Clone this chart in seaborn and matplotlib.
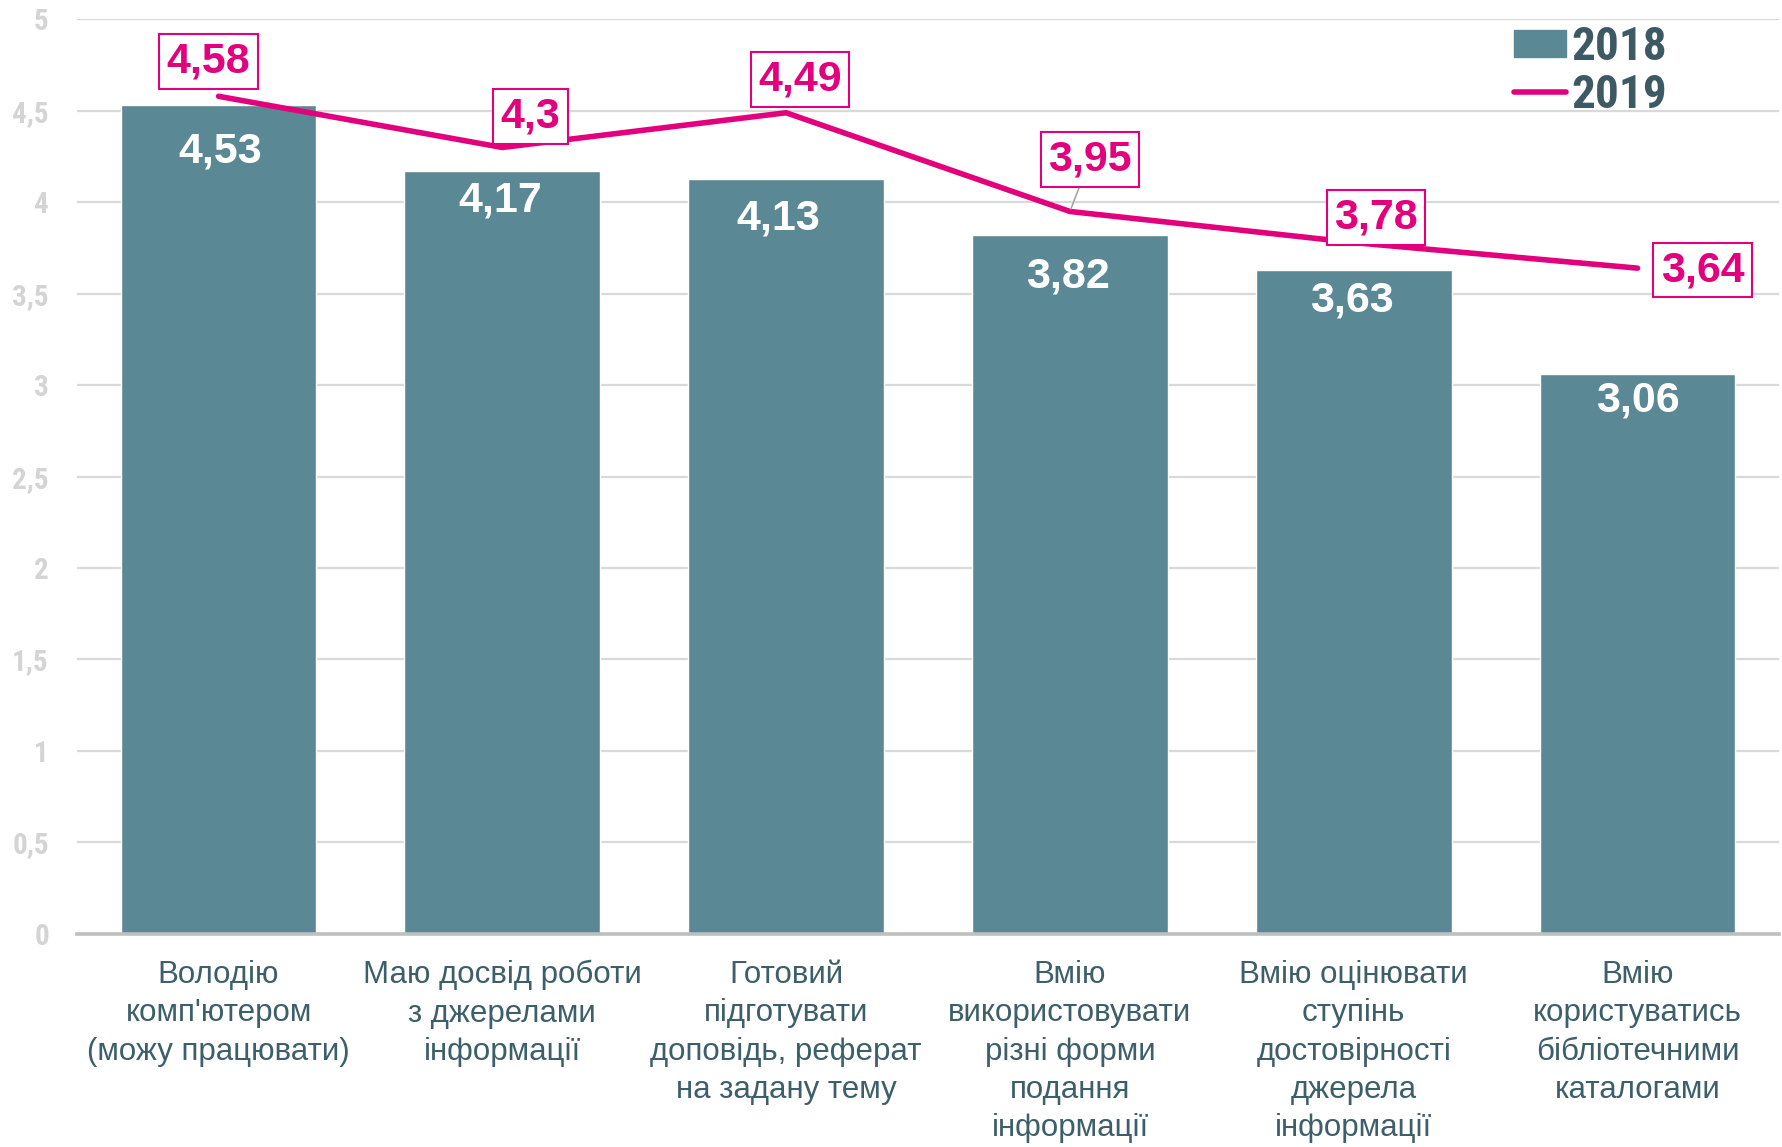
import matplotlib
matplotlib.use('Agg')
import matplotlib.pyplot as plt
import matplotlib.ticker as mticker
from matplotlib.patches import Patch
from matplotlib.lines import Line2D
import seaborn as sns
import numpy as np
import pandas as pd

#%% Data
categories = [
    "Володію\nкомп'ютером\n(можу працювати)",
    "Маю досвід роботи\nз джерелами\nінформації",
    "Готовий\nпідготувати\nдоповідь, реферат\nна задану тему",
    "Вмію\nвикористовувати\nрізні форми\nподання\nінформації",
    "Вмію оцінювати\nступінь\nдостовірності\nджерела\nінформації",
    "Вмію\nкористуватись\nбібліотечними\nкаталогами",
]
values_2018 = [4.53, 4.17, 4.13, 3.82, 3.63, 3.06]
values_2019 = [4.58, 4.30, 4.49, 3.95, 3.78, 3.64]
series_names = ['2018', '2019']

# label offsets (pixels from the data point)
bar_label_offsets = [(2, -46), (-2, -29), (-8, -40), (-2, -41), (-2, -31), (0, -26)]
label_offsets = [(-10, 35), (28, 31), (14, 33), (20, 52), (22, 25), (65, -2)]

bar_color = '#5a8894'
line_color = '#e2007d'
text_color = '#3d5f69'
grid_color = '#d9d9d9'

def fmt(v):
    return f'{v:g}'.replace('.', ',')

#%% Plot
sns.set_style('white')
plt.rcParams['font.family'] = ['Liberation Sans', 'DejaVu Sans']
narrow = ['Roboto Condensed', 'Saira SemiCondensed', 'Liberation Sans', 'DejaVu Sans']

fig = plt.figure(figsize=(17.83, 11.47), dpi=100)
ax = fig.add_axes([0.043, 0.186, 0.955, 0.797])

df = pd.DataFrame({'cat': categories, 'v2018': values_2018, 'v2019': values_2019})
sns.barplot(data=df, x='cat', y='v2018', color=bar_color, width=0.69,
            saturation=1, ax=ax, zorder=2)
sns.lineplot(x=np.arange(len(categories)), y=values_2019, color=line_color,
             linewidth=4, ax=ax, zorder=3)

ax.set_xlim(-0.5, len(categories) - 0.5)
ax.set_ylim(0, 5)
ax.yaxis.set_major_locator(mticker.MultipleLocator(0.5))
ax.yaxis.set_major_formatter(mticker.FuncFormatter(lambda v, p: fmt(v)))
ax.grid(axis='y', color=grid_color, linewidth=1.6, zorder=0)
ax.set_axisbelow(True)
for s in ['top', 'right', 'left']:
    ax.spines[s].set_visible(False)
ax.spines['bottom'].set_color('#bfbfbf')
ax.spines['bottom'].set_linewidth(2.6)
ax.spines['bottom'].set_zorder(4)
ax.set_xlabel('')
ax.set_ylabel('')
ax.tick_params(axis='both', length=0)
ax.tick_params(axis='y', pad=20)
ax.tick_params(axis='x', pad=19)
for t in ax.get_yticklabels():
    t.set_family(narrow)
    t.set_fontweight('bold')
    t.set_fontsize(21)
    t.set_color('#d4d4d4')
for t in ax.get_xticklabels():
    t.set_fontsize(22.5)
    t.set_color(text_color)
    t.set_linespacing(1.36)

# bar value labels
for i, v in enumerate(values_2018):
    ax.annotate(fmt(v), xy=(i, v), xytext=bar_label_offsets[i], textcoords='offset pixels',
                ha='center', va='center', fontsize=31, fontweight='bold',
                color='white', zorder=5)

# 2019 labels in boxes
for i, v in enumerate(values_2019):
    dx, dy = label_offsets[i]
    arrow = dict(arrowstyle='-', color='#a6a6a6', lw=1.2, shrinkA=0, shrinkB=2) if i == 3 else None
    ax.annotate(fmt(v), xy=(i, v), xytext=(dx, dy), textcoords='offset pixels',
                ha='center', va='center', fontsize=31, fontweight='bold',
                color=line_color, zorder=6, arrowprops=arrow,
                bbox=dict(boxstyle='square,pad=0.17', fc='white', ec=line_color, lw=1.5))

handles = [Patch(color=bar_color, label=series_names[0]),
           Line2D([0], [0], color=line_color, lw=4, solid_capstyle='round', label=series_names[1])]
leg = ax.legend(handles=handles, loc='upper left', bbox_to_anchor=(0.83, 1.02),
                frameon=False, handlelength=1.1, handleheight=0.5, handletextpad=0.12,
                labelspacing=0.08, borderpad=0,
                prop=dict(family=narrow, weight='bold', size=34))
for t in leg.get_texts():
    t.set_color('#3d5a64')

plt.savefig('out.png', dpi=100)
